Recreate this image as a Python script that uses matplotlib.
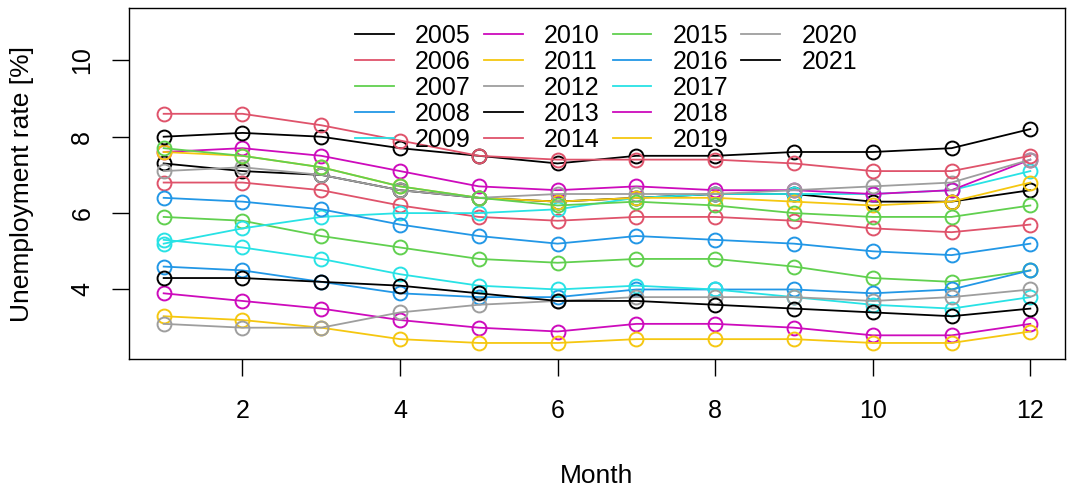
import matplotlib
matplotlib.use("Agg")
import matplotlib.pyplot as plt
from matplotlib.lines import Line2D

plt.rcParams['font.family'] = ['Liberation Sans', 'DejaVu Sans']

months = list(range(1, 13))
years = [str(y) for y in range(2005, 2022)]

y2005 = [7.3, 7.1, 7.0, 6.6, 6.4, 6.3, 6.4, 6.5, 6.5, 6.3, 6.3, 6.6]
y2006 = [6.8, 6.8, 6.6, 6.2, 5.9, 5.8, 5.9, 5.9, 5.8, 5.6, 5.5, 5.7]
y2007 = [5.9, 5.8, 5.4, 5.1, 4.8, 4.7, 4.8, 4.8, 4.6, 4.3, 4.2, 4.5]
y2008 = [4.6, 4.5, 4.2, 3.9, 3.8, 3.8, 4.0, 4.0, 4.0, 3.9, 4.0, 4.5]
y2009 = [5.2, 5.6, 5.9, 6.0, 6.0, 6.1, 6.4, 6.5, 6.5, 6.5, 6.6, 7.1]
y2010 = [7.6, 7.7, 7.5, 7.1, 6.7, 6.6, 6.7, 6.6, 6.6, 6.5, 6.6, 7.4]
y2011 = [7.6, 7.5, 7.2, 6.7, 6.4, 6.3, 6.4, 6.4, 6.3, 6.2, 6.3, 6.8]
y2012 = [7.1, 7.2, 7.0, 6.6, 6.4, 6.5, 6.5, 6.5, 6.6, 6.7, 6.8, 7.4]
y2013 = [8.0, 8.1, 8.0, 7.7, 7.5, 7.3, 7.5, 7.5, 7.6, 7.6, 7.7, 8.2]
y2014 = [8.6, 8.6, 8.3, 7.9, 7.5, 7.4, 7.4, 7.4, 7.3, 7.1, 7.1, 7.5]
y2015 = [7.7, 7.5, 7.2, 6.7, 6.4, 6.2, 6.3, 6.2, 6.0, 5.9, 5.9, 6.2]
y2016 = [6.4, 6.3, 6.1, 5.7, 5.4, 5.2, 5.4, 5.3, 5.2, 5.0, 4.9, 5.2]
y2017 = [5.3, 5.1, 4.8, 4.4, 4.1, 4.0, 4.1, 4.0, 3.8, 3.6, 3.5, 3.8]
y2018 = [3.9, 3.7, 3.5, 3.2, 3.0, 2.9, 3.1, 3.1, 3.0, 2.8, 2.8, 3.1]
y2019 = [3.3, 3.2, 3.0, 2.7, 2.6, 2.6, 2.7, 2.7, 2.7, 2.6, 2.6, 2.9]
y2020 = [3.1, 3.0, 3.0, 3.4, 3.6, 3.7, 3.8, 3.8, 3.8, 3.7, 3.8, 4.0]
y2021 = [4.3, 4.3, 4.2, 4.1, 3.9, 3.7, 3.7, 3.6, 3.5, 3.4, 3.3, 3.5]

series = [y2005, y2006, y2007, y2008, y2009, y2010, y2011, y2012, y2013,
          y2014, y2015, y2016, y2017, y2018, y2019, y2020, y2021]

palette = ["#000000", "#DF536B", "#61D04F", "#2297E6", "#28E2E5",
           "#CD0BBC", "#F5C710", "#9E9E9E"]

fig = plt.figure(figsize=(10.82, 4.93), dpi=100)
ax = fig.add_axes([129/1082, 1 - 359/493, 936/1082, 351/493])

handles = []
for i, (yr, vals) in enumerate(zip(years, series)):
    c = palette[i % len(palette)]
    ax.plot(months, vals, color=c, lw=1.3, marker='o', markersize=10,
            markerfacecolor='none', markeredgecolor=c, markeredgewidth=1.4)
    h, = ax.plot([], [], color=c, lw=1.3)
    handles.append(h)

# pad legend to 4 columns x 5 rows (column-major like R)
leg_handles = handles + [Line2D([], [], color='none')] * 3
leg_labels = years + [''] * 3

ax.set_xlim(0.56, 12.44)
ax.set_ylim(2.18, 11.37)
ax.set_xticks([2, 4, 6, 8, 10, 12])
ax.set_yticks([4, 6, 8, 10])
ax.tick_params(axis='both', direction='out', length=12, width=1.0,
               labelsize=18)
ax.tick_params(axis='x', pad=17)
ax.tick_params(axis='y', pad=13)
for lab in ax.get_yticklabels():
    lab.set_rotation(90)
    lab.set_va('center')
for sp in ax.spines.values():
    sp.set_linewidth(1.0)

ax.set_xlabel("Month", fontsize=19, labelpad=29)
ax.set_ylabel("Unemployment rate [%]", fontsize=19, labelpad=26)

ax.legend(leg_handles, leg_labels, ncol=4, frameon=False, fontsize=18,
          loc='upper left', bbox_to_anchor=(0.228, 0.991), borderpad=0,
          handlelength=1.55, handletextpad=0.85, columnspacing=0.52,
          labelspacing=0.08)

fig.savefig("out.png", dpi=100)
